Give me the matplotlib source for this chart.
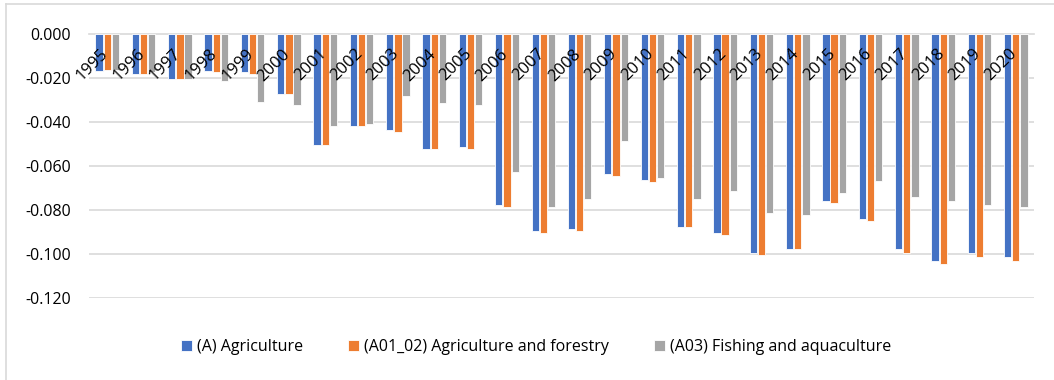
import matplotlib
matplotlib.use("Agg")
import matplotlib.pyplot as plt
import matplotlib.transforms as mtransforms
import numpy as np
from matplotlib.lines import Line2D

years = [str(y) for y in range(1995, 2021)]
agriculture = [-0.017, -0.0184, -0.0206, -0.017, -0.0176, -0.0274, -0.0506, -0.0420, -0.0438, -0.0524,
               -0.0513, -0.0778, -0.0896, -0.0887, -0.0637, -0.0666, -0.0876, -0.0903, -0.0994, -0.0977,
               -0.0758, -0.0841, -0.0977, -0.1030, -0.0994, -0.1012]
agri_forestry = [-0.0167, -0.0184, -0.0206, -0.0176, -0.0185, -0.0274, -0.0506, -0.0420, -0.0447, -0.0524,
                 -0.0524, -0.0787, -0.0903, -0.0896, -0.0646, -0.0673, -0.0876, -0.0912, -0.1003, -0.0977,
                 -0.0767, -0.0849, -0.0994, -0.1048, -0.1012, -0.1030]
fishing = [-0.0167, -0.0173, -0.0206, -0.0217, -0.0312, -0.0323, -0.0418, -0.0410, -0.0285, -0.0314,
           -0.0324, -0.0630, -0.0785, -0.0751, -0.0486, -0.0657, -0.0751, -0.0713, -0.0815, -0.0825,
           -0.0722, -0.0667, -0.0740, -0.0760, -0.0778, -0.0787]
series_names = ["(A) Agriculture", "(A01_02) Agriculture and forestry", "(A03) Fishing and aquaculture"]
colors = ["#4472C4", "#ED7D31", "#A5A5A5"]

plt.rcParams['font.family'] = ['Open Sans', 'DejaVu Sans']

W, H = 1054, 380
fig = plt.figure(figsize=(W / 100, H / 100), dpi=100)
ax = fig.add_axes([89 / W, 1 - 298 / H, (1034 - 89) / W, (298 - 33.5) / H])

x = np.arange(len(years))
bw = 0.2
step = 0.225
for i, (vals, name, c) in enumerate(zip([agriculture, agri_forestry, fishing], series_names, colors)):
    ax.bar(x + (i - 1) * step, vals, width=bw, color=c, label=name,
           edgecolor='white', linewidth=0.6, zorder=3)

ax.set_xlim(-0.5, len(years) - 0.5)
ax.set_ylim(-0.12, 0.0)
ax.set_yticks(np.arange(-0.12, 0.0001, 0.02))
ax.yaxis.set_major_formatter(matplotlib.ticker.FuncFormatter(lambda v, p: f"{v:.3f}"))
ax.yaxis.grid(True, color='#D9D9D9', linewidth=1.2)
ax.set_axisbelow(True)
ax.tick_params(axis='y', length=0, pad=13, labelsize=11.5, labelcolor='#000000')

for s in ['left', 'right', 'top']:
    ax.spines[s].set_visible(False)
ax.spines['bottom'].set_position(('data', 0))
ax.spines['bottom'].set_color('#D9D9D9')
ax.spines['bottom'].set_linewidth(1.2)
ax.spines['bottom'].set_zorder(2)

ax.set_xticks(x)
ax.set_xticklabels(years, rotation=45, ha='right', va='top', rotation_mode='anchor', fontsize=12)
ax.tick_params(axis='x', length=0, pad=1)
ax.xaxis.set_zorder(5)
offset = mtransforms.ScaledTranslation(-7 / 100, -11 / 100, fig.dpi_scale_trans)
for lbl in ax.get_xticklabels():
    lbl.set_transform(lbl.get_transform() + offset)

leg = fig.legend(loc='center', bbox_to_anchor=(536 / W, 1 - 347 / H), ncol=3, frameon=False,
                 fontsize=11.5, handlelength=0.7, handleheight=0.7, handletextpad=0.3,
                 columnspacing=2.8)

# chart border (top and left lines)
fig.add_artist(Line2D([6 / W, 6 / W], [0, 1 - 4 / H], transform=fig.transFigure, color='#D9D9D9', linewidth=1.2))
fig.add_artist(Line2D([6 / W, 1], [1 - 4 / H, 1 - 4 / H], transform=fig.transFigure, color='#D9D9D9', linewidth=1.2))

fig.savefig("out.png", dpi=100, facecolor='white')
